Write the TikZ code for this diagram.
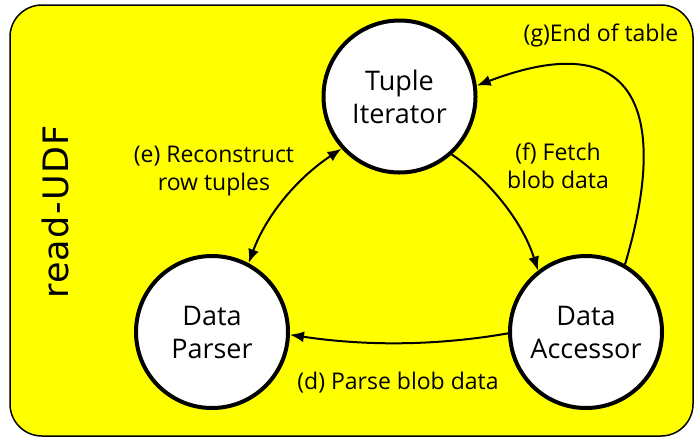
\documentclass[tikz,border=0pt]{standalone}
\usepackage{fontspec}
\setmainfont{Open Sans}
\newfontfamily\udffont[LetterSpace=4]{DejaVu Sans}
\usetikzlibrary{arrows.meta}
\definecolor{bgyellow}{HTML}{FFFF00}
\begin{document}
\begin{tikzpicture}[x=1pt,y=-1pt,
  state/.style={circle,draw=black,line width=4pt,fill=white,minimum size=152pt,inner sep=0pt,align=center,font=\fontsize{27}{33}\selectfont},
  lbl/.style={align=center,font=\fontsize{23}{27.5}\selectfont,inner sep=0pt},
  conn/.style={line width=2pt,-{Latex[length=14pt,width=11pt]}},
  dconn/.style={line width=2pt,{Latex[length=14pt,width=11pt]}-{Latex[length=14pt,width=11pt]}}]
\useasboundingbox (0,0) rectangle (695,437);
\draw[fill=bgyellow,line width=1.5pt,rounded corners=32pt] (10,5) rectangle (693,436);
\node[rotate=90,font=\udffont\fontsize{35}{40}\selectfont,inner sep=0pt] (udf) at (55,212) {read-UDF};
\node[state] (ti) at (399.5,96.5) {Tuple\\Iterator};
\node[state] (dp) at (212,332) {Data\\Parser};
\node[state] (da) at (586,332) {Data\\Accessor};
\draw[conn] (ti.312) .. controls (487,178) and (522,220) .. (da.128);
\draw[dconn] (ti.222) .. controls (296,179) and (266,216) .. (dp.62);
\draw[conn] (da.181) .. controls (435,346) and (365,346) .. (dp.358);
\draw[conn] (da.60) .. controls (665,130) and (650,20) .. (ti.8);
\node[lbl] (lg) at (601,35) {(g)End of table};
\node[lbl] (le) at (214,171) {(e) Reconstruct\\row tuples};
\node[lbl] (lf) at (558,166) {(f) Fetch\\blob data};
\node[lbl] (ld) at (398,383) {(d) Parse blob data};
\end{tikzpicture}
\end{document}
